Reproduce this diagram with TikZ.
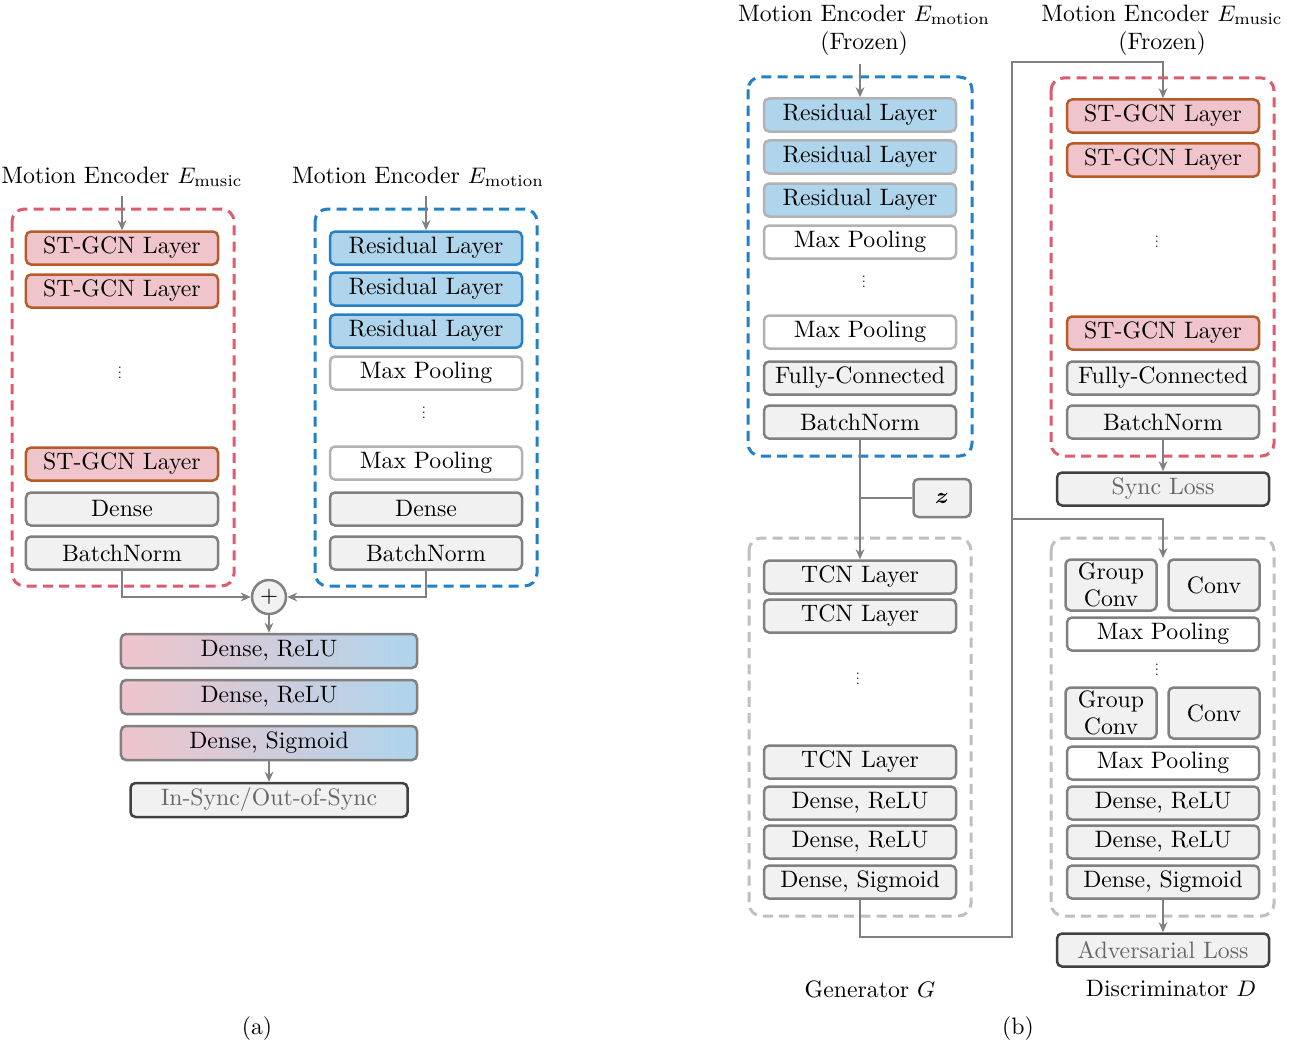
\documentclass[tikz,border=0pt]{standalone}
\usepackage{amsmath, amssymb}
\usepackage{tikz}
\usetikzlibrary{arrows.meta, shapes.geometric}

\definecolor{gcnfill}{RGB}{240,196,203}
\definecolor{gcnedge}{RGB}{181,92,42}
\definecolor{resfill}{RGB}{174,213,236}
\definecolor{resedge}{RGB}{40,128,196}
\definecolor{musicdash}{RGB}{220,92,110}
\definecolor{motiondash}{RGB}{34,128,196}
\definecolor{boxfill}{RGB}{241,241,241}
\definecolor{midgray}{RGB}{128,128,128}

\newcommand{\tinydots}{\scalebox{0.5}{\large$\boldsymbol{\vdots}$}}

\tikzset{
  layer/.style={draw, rounded corners=2pt, line width=1pt, minimum width=76.8pt, minimum height=13.2pt, inner sep=0pt},
  gcn/.style={layer, draw=gcnedge, fill=gcnfill},
  res/.style={layer, draw=resedge, fill=resfill},
  frozenres/.style={layer, draw=gray!60, fill=resfill},
  pool/.style={layer, draw=gray!60, fill=white},
  dense/.style={layer, draw=midgray, fill=boxfill},
  mixed/.style={layer, draw=midgray, minimum width=118.4pt, minimum height=13.6pt, left color=gcnfill, right color=resfill},
  lossbox/.style={layer, draw=black!75, fill=boxfill, text=black!60, minimum width=84.8pt},
  encbox/.style={line width=1.2pt, dash pattern=on 4pt off 2.5pt, rounded corners=5pt},
  dotsnode/.style={inner sep=0pt},
  flow/.style={draw=midgray, line width=1.1pt},
  flowto/.style={flow, -{Stealth[length=4pt, width=3.5pt]}},
}

\begin{document}
\begin{tikzpicture}[x=0.4pt, y=-0.4pt, every node/.style={font=\fontsize{9.5}{11}\selectfont}]
    \useasboundingbox (0,0) rectangle (1291,1046);

    % (a) sync classifier
    \node (tmus) at (122,177) {Motion Encoder $E_{\text{music}}$};
    \node (tmot) at (418,177) {Motion Encoder $E_{\text{motion}}$};
    \draw[encbox, musicdash] (12,209) rectangle (234,586);
    \draw[encbox, motiondash] (315,209) rectangle (537,586);

    \node[gcn] (ag1) at (122,248) {ST-GCN Layer};
    \node[gcn] (ag2) at (122,291) {ST-GCN Layer};
    \node[dotsnode] (adots) at (120,369) {\tinydots};
    \node[gcn] (ag3) at (122,464) {ST-GCN Layer};
    \node[dense] (aden) at (122,509) {Dense};
    \node[dense] (abn) at (122,553) {BatchNorm};

    \node[res] (ar1) at (426,248) {Residual Layer};
    \node[res] (ar2) at (426,289) {Residual Layer};
    \node[res] (ar3) at (426,331) {Residual Layer};
    \node[pool] (ap1) at (426,373) {Max Pooling};
    \node[dotsnode] (bdots) at (424,409) {\tinydots};
    \node[pool] (ap2) at (426,463) {Max Pooling};
    \node[dense] (vden) at (426,509) {Dense};
    \node[dense] (vbn) at (426,553) {BatchNorm};

    \node[draw=midgray, line width=1pt, circle, fill=boxfill, minimum size=13.6pt, inner sep=0pt] (sum) at (269,597) {$+$};
    \node[mixed] (mix1) at (269,651) {Dense, ReLU};
    \node[mixed] (mix2) at (269,697) {Dense, ReLU};
    \node[mixed] (mix3) at (269,743) {Dense, Sigmoid};
    \node[lossbox, minimum width=110.8pt, minimum height=13.6pt] (insync) at (269,800) {In-Sync/Out-of-Sync};

    \draw[flowto] (ag1.north |- tmus.south) -- (ag1.north);
    \draw[flowto] (ar1.north |- tmot.south) -- (ar1.north);
    \draw[flowto] (abn.south) |- (sum.west);
    \draw[flowto] (vbn.south) |- (sum.east);
    \draw[flowto] (sum.south) -- (mix1.north);
    \draw[flowto] (mix3.south) -- (insync.north);
    \node (capa) at (257,1029) {(a)};

    % (b) generator and discriminator
    \node[align=center] (tgmot) at (864,30) {Motion Encoder $E_{\text{motion}}$\\(Frozen)};
    \node[align=center] (tgmus) at (1162,30) {Motion Encoder $E_{\text{music}}$\\(Frozen)};
    \draw[encbox, motiondash] (748,77) rectangle (972,456);
    \draw[encbox, musicdash] (1051,78) rectangle (1274,456);
    \draw[encbox, gray!50] (749,538) rectangle (971,916);
    \draw[encbox, gray!50] (1051,538) rectangle (1274,916);

    \node[frozenres] (br1) at (860,115) {Residual Layer};
    \node[frozenres] (br2) at (860,157) {Residual Layer};
    \node[frozenres] (br3) at (860,200) {Residual Layer};
    \node[pool] (bp1) at (860,242) {Max Pooling};
    \node[dotsnode] (cdots) at (864,278) {\tinydots};
    \node[pool] (bp2) at (860,332) {Max Pooling};
    \node[dense] (bfc) at (860,378) {Fully-Connected};
    \node[dense] (bbn) at (860,422) {BatchNorm};

    \node[dense, minimum width=22.8pt, minimum height=15.2pt] (z) at (942,498) {$\boldsymbol{z}$};

    \node[dense] (gt1) at (860,577) {TCN Layer};
    \node[dense] (gt2) at (860,616) {TCN Layer};
    \node[dotsnode] (gdots) at (858,675) {\tinydots};
    \node[dense] (gt3) at (860,762) {TCN Layer};
    \node[dense] (gd1) at (860,803) {Dense, ReLU};
    \node[dense] (gd2) at (860,842) {Dense, ReLU};
    \node[dense] (gsig) at (860,882) {Dense, Sigmoid};

    \node[gcn] (mg1) at (1163,116) {ST-GCN Layer};
    \node[gcn] (mg2) at (1163,160) {ST-GCN Layer};
    \node[dotsnode] (mdots) at (1157,238) {\tinydots};
    \node[gcn] (mg3) at (1163,333) {ST-GCN Layer};
    \node[dense] (mfc) at (1163,378) {Fully-Connected};
    \node[dense] (mbn) at (1163,422) {BatchNorm};
    \node[lossbox] (sync) at (1163,489) {Sync Loss};

    \node[dense, minimum width=36.4pt, minimum height=20.4pt, align=center] (dgc1) at (1111,585) {Group\\Conv};
    \node[dense, minimum width=36.4pt, minimum height=20.4pt] (dcv1) at (1214,585) {Conv};
    \node[pool, draw=midgray] (dp1) at (1163,634) {Max Pooling};
    \node[dotsnode] (ddots) at (1157,666) {\tinydots};
    \node[dense, minimum width=36.4pt, minimum height=20.4pt, align=center] (dgc2) at (1111,713) {Group\\Conv};
    \node[dense, minimum width=36.4pt, minimum height=20.4pt] (dcv2) at (1214,713) {Conv};
    \node[pool, draw=midgray] (dp2) at (1163,763) {Max Pooling};
    \node[dense] (dd1) at (1163,803) {Dense, ReLU};
    \node[dense] (dd2) at (1163,842) {Dense, ReLU};
    \node[dense] (dsig) at (1163,882) {Dense, Sigmoid};
    \node[lossbox] (adv) at (1163,950) {Adversarial Loss};

    \coordinate (bendlo) at (1012,937);
    \coordinate (bendhi) at (1012,62);
    \coordinate (bendmid) at (1012,519);
    \coordinate (dtop) at (1163,558);

    \draw[flowto] (br1.north |- tgmot.south) -- (br1.north);
    \draw[flowto] (bbn.south) -- (gt1.north);
    \draw[flow] (z.west) -- (z.west -| bbn.south);
    \draw[flowto] (gsig.south) |- (bendlo) -- (bendhi) -| (mg1.north);
    \draw[flowto] (bendmid) -| (dtop);
    \draw[flowto] (mbn.south) -- (sync.north);
    \draw[flowto] (dsig.south) -- (adv.north);

    \node (capg) at (870,989) {Generator $G$};
    \node (capd) at (1171,989) {Discriminator $D$};
    \node (capb) at (1018,1029) {(b)};
\end{tikzpicture}
\end{document}
